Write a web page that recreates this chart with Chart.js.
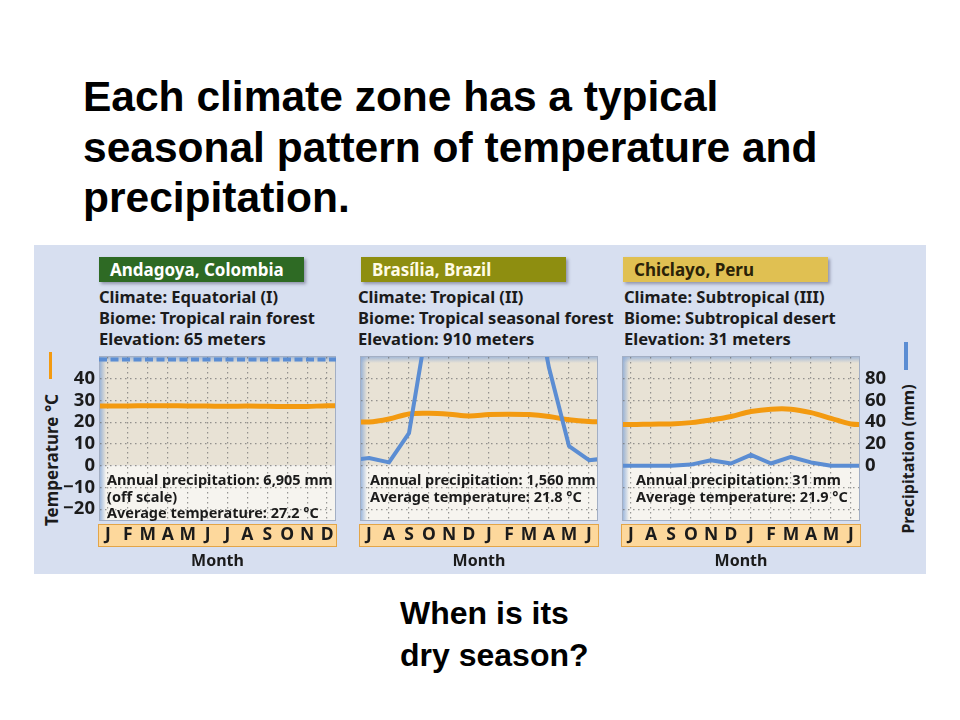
<!DOCTYPE html>
<html><head><meta charset="utf-8">
<script src="https://cdn.jsdelivr.net/npm/chart.js@4.4.1/dist/chart.umd.min.js"></script>
<style>
body{margin:0;width:960px;height:720px;background:#fff;position:relative;overflow:hidden;font-family:"Noto Sans",sans-serif;}
.abs{position:absolute;}
#title{left:83px;top:72px;font:bold 42.5px/50.5px "Liberation Sans",Arial,sans-serif;color:#000;white-space:nowrap;}
#question{left:400px;top:592px;font:bold 32px/42px "Liberation Sans",Arial,sans-serif;color:#000;white-space:nowrap;}
#panel{left:34px;top:245px;width:892px;height:329px;background:#d7dff0;}
.hdr{top:257px;width:205px;height:25px;font:bold 17px/25px "Noto Sans",sans-serif;padding-left:11px;box-sizing:border-box;box-shadow:2px 2px 3px rgba(60,60,90,.45);white-space:nowrap;}
.info{top:286px;font:bold 16.5px/21px "Noto Sans",sans-serif;color:#1b1b1b;white-space:nowrap;}
.note{top:471px;font:bold 14.5px/16.5px "Noto Sans",sans-serif;color:#1b1b1b;white-space:nowrap;}
.vlabel{transform:translate(-50%,-50%) rotate(-90deg);font:bold 17px "Noto Sans",sans-serif;color:#1b1b1b;white-space:nowrap;}
canvas{position:absolute;}
</style></head>
<body>
<div id="title" class="abs">Each climate zone has a typical<br>seasonal pattern of temperature and<br>precipitation.</div>
<div id="panel" class="abs"></div>

<div class="abs hdr" style="left:99px;background:#2e6a24;color:#fff;">Andagoya, Colombia</div>
<div class="abs hdr" style="left:361px;background:#8e8e10;color:#fffbe6;">Brasília, Brazil</div>
<div class="abs hdr" style="left:623px;background:#e0c052;color:#2a2208;">Chiclayo, Peru</div>

<div class="abs info" style="left:99px;">Climate: Equatorial (I)<br>Biome: Tropical rain forest<br>Elevation: 65 meters</div>
<div class="abs info" style="left:358px;">Climate: Tropical (II)<br>Biome: Tropical seasonal forest<br>Elevation: 910 meters</div>
<div class="abs info" style="left:624px;">Climate: Subtropical (III)<br>Biome: Subtropical desert<br>Elevation: 31 meters</div>

<div class="abs" style="left:48.5px;top:352px;width:3.5px;height:27px;background:#f39a10;"></div>
<div class="abs" style="left:904px;top:342px;width:4px;height:28px;background:#5b8dd3;"></div>
<div class="abs vlabel" style="left:51px;top:460px;">Temperature °C</div>
<div class="abs vlabel" style="left:908px;top:459px;font-size:16px;">Precipitation (mm)</div>

<canvas id="c1" width="304" height="225" style="left:36px;top:350px;"></canvas>
<canvas id="c2" width="246" height="225" style="left:356px;top:350px;"></canvas>
<canvas id="c3" width="277" height="225" style="left:618px;top:350px;"></canvas>

<div class="abs note" style="left:107px;">Annual precipitation: 6,905 mm<br>(off scale)<br>Average temperature: 27.2 °C</div>
<div class="abs note" style="left:370px;">Annual precipitation: 1,560 mm<br>Average temperature: 21.8 °C</div>
<div class="abs note" style="left:636px;">Annual precipitation: 31 mm<br>Average temperature: 21.9 °C</div>

<div id="question" class="abs">When is its<br>dry season?</div>

<script>
// ---- data ----
const MONTHS_CALENDAR = ['J','F','M','A','M','J','J','A','S','O','N','D'];
const MONTHS_FROM_JULY = ['J','A','S','O','N','D','J','F','M','A','M','J'];
const TEMP_TICKS = [-20, -10, 0, 10, 20, 30, 40];
const PRECIP_TICKS = [0, 20, 40, 60, 80];

const ANDAGOYA_TEMP = [27.4, 27.5, 27.6, 27.6, 27.5, 27.4, 27.3, 27.4, 27.3, 27.2, 27.2, 27.6];
const ANDAGOYA_PRECIP = [500, 450, 460, 580, 650, 600, 560, 590, 560, 620, 640, 560]; // off scale
const BRASILIA_TEMP = [20.1, 21.5, 23.8, 24.1, 23.7, 22.9, 23.5, 23.7, 23.5, 22.6, 21.1, 20.3];
const BRASILIA_PRECIP = [7, 3, 30, 140, 250, 260, 260, 220, 185, 90, 18, 5];
const CHICLAYO_TEMP = [18.9, 19.1, 19.2, 19.8, 21.0, 22.6, 24.9, 26.0, 26.0, 24.4, 21.8, 19.2];
const CHICLAYO_PRECIP = [0, 0, 0, 1, 5, 2, 10, 2, 8, 3, 0, 0];

// ---- style ----
const BEIGE = '#e8e2d5', LOWER = '#f6f4ef', ORANGE = '#f39a10', BLUE = '#5b8dd3';
const GRID = 'rgba(110,110,110,0.7)', INK = '#1b1b1b';
const FONT = '"Noto Sans", sans-serif';

function series(values) {
  const n = values.length;
  const pts = values.map((v, i) => ({x: i, y: v}));
  pts.unshift({x: -1, y: values[n - 1]});
  pts.push({x: n, y: values[0]});
  return pts;
}

const plotBg = {
  id: 'plotBg',
  beforeDraw(chart) {
    const {ctx, chartArea: a, scales} = chart;
    const y0 = scales.y.getPixelForValue(0);
    ctx.save();
    ctx.fillStyle = BEIGE; ctx.fillRect(a.left, a.top, a.width, y0 - a.top);
    ctx.fillStyle = LOWER; ctx.fillRect(a.left, y0, a.width, a.bottom - y0);
    let g = ctx.createLinearGradient(a.left, 0, a.left + 6, 0);
    g.addColorStop(0, 'rgba(130,165,215,0.75)'); g.addColorStop(1, 'rgba(130,165,215,0)');
    ctx.fillStyle = g; ctx.fillRect(a.left, a.top, 6, a.height);
    g = ctx.createLinearGradient(0, a.top, 0, a.top + 6);
    g.addColorStop(0, 'rgba(140,170,215,0.7)'); g.addColorStop(1, 'rgba(140,170,215,0)');
    ctx.fillStyle = g; ctx.fillRect(a.left, a.top, a.width, 6);
    ctx.strokeStyle = 'rgba(150,162,185,0.8)'; ctx.lineWidth = 1;
    ctx.strokeRect(a.left - 0.5, a.top - 0.5, a.width + 1, a.height + 1);
    // month strip
    ctx.fillStyle = '#fdd89c'; ctx.fillRect(a.left - 1, a.bottom + 5, a.width + 2, 21);
    ctx.strokeStyle = '#e3a548'; ctx.lineWidth = 1;
    ctx.strokeRect(a.left - 1.5, a.bottom + 4.5, a.width + 3, 22);
    ctx.restore();
  }
};

const offScale = {
  id: 'offScale',
  afterDatasetsDraw(chart) {
    const {ctx, chartArea: a} = chart;
    chart.data.datasets.forEach(ds => {
      if (!ds.markOffScale) return;
      const sc = chart.scales[ds.yAxisID];
      if (ds.data.every(p => p.y > sc.max)) {
        ctx.save();
        ctx.strokeStyle = ds.borderColor; ctx.lineWidth = 4;
        ctx.setLineDash([8, 3.5]);
        ctx.beginPath(); ctx.moveTo(a.left - 1, a.top + 2.5); ctx.lineTo(a.right + 1, a.top + 2.5); ctx.stroke();
        ctx.restore();
      }
    });
  }
};

function noPad(s) { s.paddingTop = 0; s.paddingBottom = 0; s.paddingLeft = 0; s.paddingRight = 0; }

function makeChart(id, months, temp, precip, cfg) {
  const datasets = [
    {label: 'Temperature (°C)', data: series(temp), yAxisID: 'y', borderColor: ORANGE, borderWidth: 5,
     pointRadius: 0, tension: 0.35, clip: 0, order: 2, borderCapStyle: 'round', borderJoinStyle: 'round'},
    {label: 'Precipitation (mm)', data: series(precip), yAxisID: 'y2', borderColor: BLUE, borderWidth: 4,
     pointRadius: 0, tension: 0, clip: 0, order: 1, borderJoinStyle: 'round', markOffScale: true}
  ];
  return new Chart(document.getElementById(id), {
    type: 'line',
    data: {datasets},
    plugins: [plotBg, offScale],
    options: {
      responsive: false, animation: false, devicePixelRatio: 1,
      layout: {padding: cfg.padding},
      plugins: {legend: {display: false}, tooltip: {enabled: false}},
      scales: {
        x: {
          type: 'linear', min: -0.4, max: 11.4,
          afterBuildTicks: s => { s.ticks = months.map((m, i) => ({value: i})); },
          ticks: {callback: v => months[v], autoSkip: false, maxRotation: 0, padding: 5,
                  font: {family: FONT, weight: 'bold', size: 17.5}, color: INK},
          grid: {color: GRID, lineWidth: 1.2, drawTicks: false},
          border: {display: false, dash: [1.5, 3.5]},
          title: {display: true, text: 'Month', color: INK, padding: {top: 0, bottom: 4},
                  font: {family: FONT, weight: 'bold', size: 16}},
          afterFit: s => { s.height = 55; noPad(s); }
        },
        y: {
          position: 'left', min: -25, max: 50,
          afterBuildTicks: s => { s.ticks = TEMP_TICKS.map(v => ({value: v})); },
          ticks: {display: cfg.showTemp, padding: 5, callback: v => String(v).replace('-', '\u2212'),
                  font: {family: FONT, weight: 'bold', size: 18.5}, color: INK},
          grid: {color: GRID, lineWidth: 1.2, drawTicks: false},
          border: {display: false, dash: [1.5, 3.5]},
          afterFit: s => { s.width = cfg.showTemp ? 64 : 0; noPad(s); }
        },
        y2: {
          position: 'right', min: -50, max: 100, display: cfg.showPrecip,
          afterBuildTicks: s => { s.ticks = PRECIP_TICKS.map(v => ({value: v})); },
          ticks: {padding: 6, font: {family: FONT, weight: 'bold', size: 18.5}, color: INK},
          grid: {display: false, drawTicks: false},
          border: {display: false},
          afterFit: s => { s.width = cfg.showPrecip ? 36 : 0; noPad(s); }
        }
      }
    }
  });
}

makeChart('c1', MONTHS_CALENDAR, ANDAGOYA_TEMP, ANDAGOYA_PRECIP,
  {padding: {left: 0, right: 5, top: 7, bottom: 0}, showTemp: true, showPrecip: false});
makeChart('c2', MONTHS_FROM_JULY, BRASILIA_TEMP, BRASILIA_PRECIP,
  {padding: {left: 5, right: 5, top: 7, bottom: 0}, showTemp: false, showPrecip: false});
makeChart('c3', MONTHS_FROM_JULY, CHICLAYO_TEMP, CHICLAYO_PRECIP,
  {padding: {left: 5, right: 0, top: 7, bottom: 0}, showTemp: false, showPrecip: true});
</script>
</body></html>
